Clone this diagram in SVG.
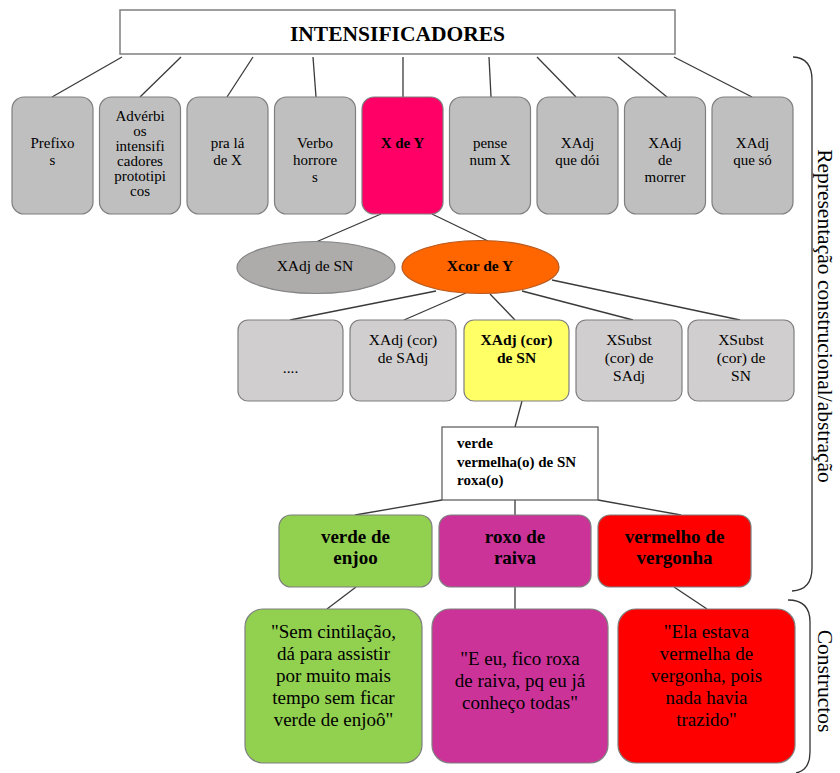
<svg xmlns="http://www.w3.org/2000/svg" width="840" height="773" viewBox="0 0 840 773" font-family="'Liberation Serif', 'Times New Roman', serif">
<style>
text{font-family:"Liberation Serif","Times New Roman",serif;fill:#000}
.t{font-size:15px;text-anchor:middle}
.s2{font-size:15.5px;text-anchor:middle}
.s3{font-size:19px;text-anchor:middle;font-weight:bold}
.q{font-size:19px;text-anchor:middle}
.side{font-size:21.5px;text-anchor:middle}
.b{font-weight:bold}
.node{stroke:#7f7f7f;stroke-width:1.2}
.g1{fill:#bfbfbf}
.g2{fill:#d0cece}
.conn line{stroke:#3a3a3a;stroke-width:1.3}
.brace{fill:none;stroke:#333;stroke-width:1.3}
</style>
<rect width="840" height="773" fill="#fff"/>

<g id="connectors" class="conn">
<line x1="122" y1="57" x2="52" y2="97"/>
<line x1="181" y1="57" x2="140" y2="97"/>
<line x1="253" y1="57" x2="227" y2="97"/>
<line x1="313" y1="57" x2="316" y2="97"/>
<line x1="403" y1="57" x2="403" y2="97"/>
<line x1="489" y1="57" x2="491" y2="97"/>
<line x1="537" y1="57" x2="576" y2="97"/>
<line x1="618" y1="57" x2="667" y2="97"/>
<line x1="674" y1="57" x2="752" y2="97"/>
<line x1="381" y1="214" x2="316" y2="242"/>
<line x1="432" y1="214" x2="488" y2="241"/>
<line x1="436" y1="291" x2="290" y2="320"/>
<line x1="466" y1="293" x2="404" y2="320"/>
<line x1="490" y1="294" x2="515" y2="320"/>
<line x1="522" y1="291" x2="633" y2="320"/>
<line x1="552" y1="280" x2="740" y2="320"/>
<line x1="522" y1="401" x2="515" y2="427"/>
<line x1="442" y1="500" x2="355" y2="515"/>
<line x1="515" y1="500" x2="515" y2="515"/>
<line x1="598" y1="500" x2="681" y2="515"/>
<line x1="356" y1="587" x2="327" y2="609"/>
<line x1="515" y1="587" x2="515" y2="609"/>
<line x1="674" y1="587" x2="707" y2="609"/>
</g>

<g id="title">
<rect x="120" y="10" width="555" height="44" fill="#fff" stroke="#7f7f7f" stroke-width="1.5"/>
<text x="397.5" y="41" font-size="21.5" font-weight="bold" text-anchor="middle">INTENSIFICADORES</text>
</g>

<g id="n-prefixos">
<rect class="node g1" x="12" y="97" width="81" height="117" rx="12"/>
<text class="t"><tspan x="52.5" y="148">Prefixo</tspan><tspan x="52.5" y="165">s</tspan></text>
</g>
<g id="n-adverbios">
<rect class="node g1" x="99.5" y="97" width="81" height="117" rx="12"/>
<text class="t"><tspan x="140" y="121">Advérbi</tspan><tspan x="140" y="136">os</tspan><tspan x="140" y="151">intensifi</tspan><tspan x="140" y="166">cadores</tspan><tspan x="140" y="181">prototipi</tspan><tspan x="140" y="196">cos</tspan></text>
</g>
<g id="n-pra-la">
<rect class="node g1" x="187" y="97" width="81" height="117" rx="12"/>
<text class="t"><tspan x="227.5" y="148">pra lá</tspan><tspan x="227.5" y="165">de X</tspan></text>
</g>
<g id="n-verbo">
<rect class="node g1" x="274.5" y="97" width="81" height="117" rx="12"/>
<text class="t"><tspan x="315" y="148">Verbo</tspan><tspan x="315" y="165">horrore</tspan><tspan x="315" y="182">s</tspan></text>
</g>
<g id="n-xdey">
<rect class="node" fill="#ff0066" x="362" y="97" width="81" height="117" rx="12"/>
<text class="t b" x="402.5" y="148">X de Y</text>
</g>
<g id="n-pense">
<rect class="node g1" x="449.5" y="97" width="81" height="117" rx="12"/>
<text class="t"><tspan x="490" y="148">pense</tspan><tspan x="490" y="165">num X</tspan></text>
</g>
<g id="n-quedoi">
<rect class="node g1" x="537" y="97" width="81" height="117" rx="12"/>
<text class="t"><tspan x="577.5" y="148">XAdj</tspan><tspan x="577.5" y="165">que dói</tspan></text>
</g>
<g id="n-demorrer">
<rect class="node g1" x="624.5" y="97" width="81" height="117" rx="12"/>
<text class="t"><tspan x="665" y="148">XAdj</tspan><tspan x="665" y="165">de</tspan><tspan x="665" y="182">morrer</tspan></text>
</g>
<g id="n-queso">
<rect class="node g1" x="712" y="97" width="81" height="117" rx="12"/>
<text class="t"><tspan x="752.5" y="148">XAdj</tspan><tspan x="752.5" y="165">que só</tspan></text>
</g>

<g id="n-xadjdesn">
<ellipse cx="316" cy="267.5" rx="79" ry="26" fill="#aeabab" stroke="#858585" stroke-width="1.2"/>
<text class="s2" x="315" y="271">XAdj de SN</text>
</g>
<g id="n-xcordey">
<ellipse cx="480.5" cy="267" rx="78.5" ry="26.5" fill="#ff6600" stroke="#b85a20" stroke-width="1.2"/>
<text class="s2 b" x="480" y="271">Xcor de Y</text>
</g>

<g id="n-dots">
<rect class="node g2" x="238" y="320" width="105" height="81" rx="10"/>
<text class="s2" x="290.5" y="373">....</text>
</g>
<g id="n-xadj-sadj">
<rect class="node g2" x="350" y="320" width="106" height="81" rx="10"/>
<text class="s2"><tspan x="403" y="345">XAdj (cor)</tspan><tspan x="403" y="363">de SAdj</tspan></text>
</g>
<g id="n-xadj-sn">
<rect class="node" fill="#ffff66" x="464" y="320" width="105" height="81" rx="10"/>
<text class="s2 b"><tspan x="516.5" y="345">XAdj (cor)</tspan><tspan x="516.5" y="363">de SN</tspan></text>
</g>
<g id="n-xsubst-sadj">
<rect class="node g2" x="576" y="320" width="106" height="81" rx="10"/>
<text class="s2"><tspan x="629" y="345">XSubst</tspan><tspan x="629" y="363">(cor) de</tspan><tspan x="629" y="381">SAdj</tspan></text>
</g>
<g id="n-xsubst-sn">
<rect class="node g2" x="688" y="320" width="106" height="81" rx="10"/>
<text class="s2"><tspan x="741" y="345">XSubst</tspan><tspan x="741" y="363">(cor) de</tspan><tspan x="741" y="381">SN</tspan></text>
</g>

<g id="n-cores">
<rect x="442" y="427" width="156" height="73" fill="#fff" stroke="#555" stroke-width="1.2"/>
<text font-size="15" font-weight="bold"><tspan x="457" y="448">verde</tspan><tspan x="457" y="466.5">vermelha(o) de SN</tspan><tspan x="457" y="484.5">roxa(o)</tspan></text>
</g>

<g id="n-verde">
<rect class="node" fill="#92d050" x="279" y="515" width="153" height="72" rx="12"/>
<text class="s3"><tspan x="355.5" y="543">verde de</tspan><tspan x="355.5" y="564">enjoo</tspan></text>
</g>
<g id="n-roxo">
<rect class="node" fill="#cc3399" x="439" y="515" width="152" height="72" rx="12"/>
<text class="s3"><tspan x="515" y="543">roxo de</tspan><tspan x="515" y="564">raiva</tspan></text>
</g>
<g id="n-vermelho">
<rect class="node" fill="#ff0000" x="598" y="515" width="153" height="72" rx="12"/>
<text class="s3"><tspan x="674.5" y="543">vermelho de</tspan><tspan x="674.5" y="564">vergonha</tspan></text>
</g>

<g id="q-verde">
<rect class="node" fill="#92d050" x="245" y="609" width="177" height="154" rx="18"/>
<text class="q"><tspan x="333.5" y="638">"Sem cintilação,</tspan><tspan x="333.5" y="660">dá para assistir</tspan><tspan x="333.5" y="682">por muito mais</tspan><tspan x="333.5" y="704">tempo sem ficar</tspan><tspan x="333.5" y="726">verde de enjoô"</tspan></text>
</g>
<g id="q-roxo">
<rect class="node" fill="#cc3399" x="432" y="609" width="176" height="154" rx="18"/>
<text class="q"><tspan x="520" y="665">"E eu, fico roxa</tspan><tspan x="520" y="687">de raiva, pq eu já</tspan><tspan x="520" y="709">conheço todas"</tspan></text>
</g>
<g id="q-vermelho">
<rect class="node" fill="#ff0000" x="618" y="609" width="177" height="154" rx="18"/>
<text class="q"><tspan x="706.5" y="638">"Ela estava</tspan><tspan x="706.5" y="660">vermelha de</tspan><tspan x="706.5" y="682">vergonha, pois</tspan><tspan x="706.5" y="704">nada havia</tspan><tspan x="706.5" y="726">trazido"</tspan></text>
</g>

<g id="brace-representacao">
<path class="brace" d="M793,57 Q812,58 812,80 L812,568 Q812,590 792,591"/>
<text class="side" transform="translate(818,316) rotate(90)">Representação construcional/abstração</text>
</g>
<g id="brace-constructos">
<path class="brace" d="M788,600 Q810,600 810,622 L810,752 Q810,770 796,773"/>
<text class="side" transform="translate(818,681) rotate(90)">Constructos</text>
</g>
</svg>
